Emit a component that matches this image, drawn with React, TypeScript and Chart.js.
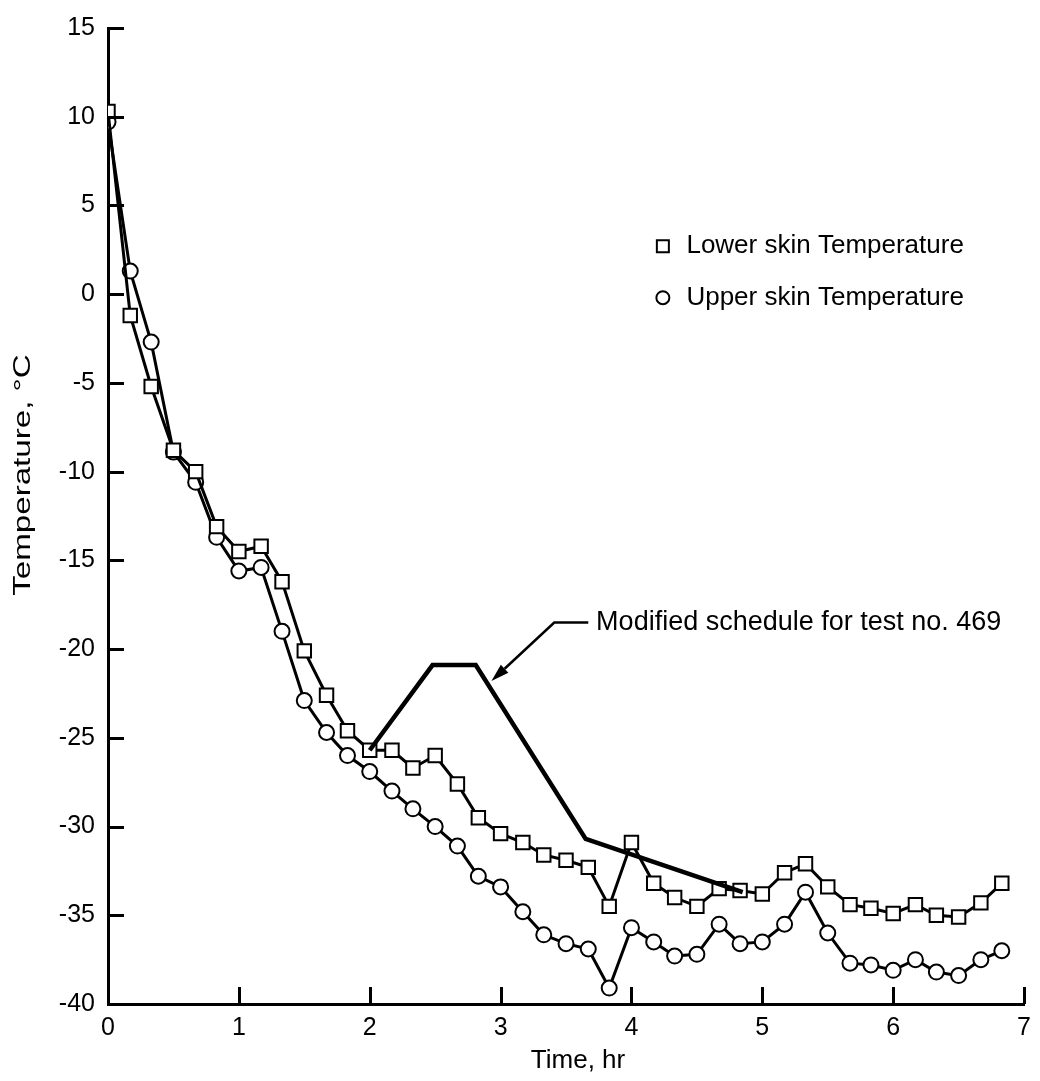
import React, { useEffect, useRef } from "react";
import { Chart, registerables } from "chart.js";

Chart.register(...registerables);

// ---- data ----
const times = [
  0, 0.17, 0.33, 0.5, 0.67, 0.83, 1, 1.17, 1.33, 1.5, 1.67, 1.83, 2, 2.17,
  2.33, 2.5, 2.67, 2.83, 3, 3.17, 3.33, 3.5, 3.67, 3.83, 4, 4.17, 4.33, 4.5,
  4.67, 4.83, 5, 5.17, 5.33, 5.5, 5.67, 5.83, 6, 6.17, 6.33, 6.5, 6.67, 6.83,
];
const lowerSkin = [
  10.3, -1.2, -5.2, -8.8, -10.0, -13.1, -14.5, -14.2, -16.2, -20.1, -22.6,
  -24.6, -25.7, -25.7, -26.7, -26.0, -27.6, -29.5, -30.4, -30.9, -31.6, -31.9,
  -32.3, -34.5, -30.9, -33.2, -34.0, -34.5, -33.5, -33.6, -33.8, -32.6, -32.1,
  -33.4, -34.4, -34.6, -34.9, -34.4, -35.0, -35.1, -34.3, -33.2,
];
const upperSkin = [
  9.7, 1.3, -2.7, -8.9, -10.6, -13.7, -15.6, -15.4, -19.0, -22.9, -24.7,
  -26.0, -26.9, -28.0, -29.0, -30.0, -31.1, -32.8, -33.4, -34.8, -36.1, -36.6,
  -36.9, -39.1, -35.7, -36.5, -37.3, -37.2, -35.5, -36.6, -36.5, -35.5, -33.7,
  -36.0, -37.7, -37.8, -38.1, -37.5, -38.2, -38.4, -37.5, -37.0,
];
const scheduleTimes = [2.0, 2.48, 2.81, 3.65, 4.85];
const scheduleTemps = [-25.7, -20.9, -20.9, -30.7, -33.7];

const xTickValues = [0, 1, 2, 3, 4, 5, 6, 7];
const yTickValues = [15, 10, 5, 0, -5, -10, -15, -20, -25, -30, -35, -40];

const xTitle = "Time, hr";
const yTitle = "Temperature, °C";
const legendLabels = ["Lower skin Temperature", "Upper skin Temperature"];
const legendMarkerTime = [4.24, 4.24];
const legendMarkerTemp = [2.7, -0.2];
const legendTextTime = 4.42;

const noteText = "Modified schedule for test no. 469";
const noteTime = 3.73;
const noteTemp = -18.5;
const arrowTimes = [3.67, 3.41, 2.93];
const arrowTemps = [-18.5, -18.5, -21.8];

const FONT = "'Liberation Sans', Arial, Helvetica, sans-serif";
const INK = "#000000";

const overlayPlugin = {
  id: "overlay",
  afterDraw(chart: any) {
    const { ctx, chartArea } = chart;
    const xs = chart.scales.x;
    const ys = chart.scales.y;
    ctx.save();
    ctx.strokeStyle = INK;
    ctx.fillStyle = INK;

    // inward tick marks
    ctx.lineWidth = 3;
    ctx.beginPath();
    yTickValues.forEach((v) => {
      const py = Math.round(ys.getPixelForValue(v)) + 0.5;
      ctx.moveTo(chartArea.left, py);
      ctx.lineTo(chartArea.left + 16, py);
    });
    xTickValues.forEach((v) => {
      if (v === 0) return;
      const px = Math.round(xs.getPixelForValue(v)) + 0.5;
      ctx.moveTo(px, chartArea.bottom);
      ctx.lineTo(px, chartArea.bottom - 17);
    });
    ctx.stroke();

    // axis titles
    ctx.font = `26px ${FONT}`;
    ctx.textAlign = "center";
    ctx.textBaseline = "middle";
    ctx.fillText(xTitle, (chartArea.left + chartArea.right) / 2 + 12, chartArea.bottom + 57);
    ctx.save();
    ctx.translate(23, chartArea.top + (chartArea.bottom - chartArea.top) * 0.458);
    ctx.rotate(-Math.PI / 2);
    ctx.scale(1.38, 1);
    ctx.font = `24px ${FONT}`;
    ctx.fillText(yTitle, 0, 0);
    ctx.restore();

    // legend
    ctx.lineWidth = 2;
    legendLabels.forEach((label, i) => {
      const mx = xs.getPixelForValue(legendMarkerTime[i]);
      const my = ys.getPixelForValue(legendMarkerTemp[i]);
      ctx.beginPath();
      if (i === 0) {
        ctx.rect(mx - 6, my - 6, 12, 12);
      } else {
        ctx.arc(mx, my, 6.5, 0, Math.PI * 2);
      }
      ctx.fillStyle = "#ffffff";
      ctx.fill();
      ctx.stroke();
      ctx.fillStyle = INK;
      ctx.font = `26px ${FONT}`;
      ctx.textAlign = "left";
      ctx.textBaseline = "middle";
      ctx.fillText(label, xs.getPixelForValue(legendTextTime), my);
    });

    // annotation text and arrow
    ctx.font = `27px ${FONT}`;
    ctx.textAlign = "left";
    ctx.textBaseline = "middle";
    ctx.fillText(noteText, xs.getPixelForValue(noteTime), ys.getPixelForValue(noteTemp));

    const pts = arrowTimes.map((t, i) => [xs.getPixelForValue(t), ys.getPixelForValue(arrowTemps[i])]);
    ctx.lineWidth = 2.5;
    ctx.beginPath();
    ctx.moveTo(pts[0][0], pts[0][1]);
    for (let i = 1; i < pts.length - 1; i++) ctx.lineTo(pts[i][0], pts[i][1]);
    const tip = pts[pts.length - 1];
    const prev = pts[pts.length - 2];
    const ang = Math.atan2(tip[1] - prev[1], tip[0] - prev[0]);
    const headLen = 18;
    const baseX = tip[0] - Math.cos(ang) * headLen;
    const baseY = tip[1] - Math.sin(ang) * headLen;
    ctx.lineTo(baseX, baseY);
    ctx.stroke();
    ctx.beginPath();
    ctx.moveTo(tip[0], tip[1]);
    ctx.lineTo(baseX + Math.sin(ang) * 5.5, baseY - Math.cos(ang) * 5.5);
    ctx.lineTo(baseX - Math.sin(ang) * 5.5, baseY + Math.cos(ang) * 5.5);
    ctx.closePath();
    ctx.fill();

    ctx.restore();
  },
};

export default function App() {
  const canvasRef = useRef<HTMLCanvasElement | null>(null);

  useEffect(() => {
    if (!canvasRef.current) return;
    const chart = new Chart(canvasRef.current, {
      type: "line",
      data: {
        datasets: [
          {
            label: "Modified schedule",
            data: scheduleTimes.map((t, i) => ({ x: t, y: scheduleTemps[i] })),
            borderColor: INK,
            borderWidth: 4.5,
            pointRadius: 0,
            tension: 0,
          },
          {
            label: legendLabels[0],
            data: times.map((t, i) => ({ x: t, y: lowerSkin[i] })),
            borderColor: INK,
            borderWidth: 3,
            pointStyle: "rect",
            pointRadius: 9.5,
            pointBorderWidth: 2,
            pointBackgroundColor: "#ffffff",
            pointBorderColor: INK,
            tension: 0,
          },
          {
            label: legendLabels[1],
            data: times.map((t, i) => ({ x: t, y: upperSkin[i] })),
            borderColor: INK,
            borderWidth: 3,
            pointStyle: "circle",
            pointRadius: 7.5,
            pointBorderWidth: 2,
            pointBackgroundColor: "#ffffff",
            pointBorderColor: INK,
            tension: 0,
          },
        ],
      },
      options: {
        animation: false,
        responsive: false,
        devicePixelRatio: 1,
        layout: { padding: { top: 23, right: 10, left: 0, bottom: 0 } },
        plugins: {
          legend: { display: false },
          tooltip: { enabled: false },
          title: { display: false },
        },
        scales: {
          x: {
            type: "linear",
            min: 0,
            max: 7,
            afterFit: (s: any) => {
              s.height = 77;
            },
            afterBuildTicks: (s: any) => {
              s.ticks = xTickValues.map((v) => ({ value: v }));
            },
            ticks: {
              color: INK,
              font: { family: FONT, size: 25 },
              padding: 9,
              maxRotation: 0,
              callback: (v: any) => String(v),
            },
            grid: { display: true, drawOnChartArea: false, drawTicks: false },
            border: { display: true, color: INK, width: 3 },
          },
          y: {
            type: "linear",
            min: -40,
            max: 15,
            afterFit: (s: any) => {
              s.width = 108;
            },
            afterBuildTicks: (s: any) => {
              s.ticks = yTickValues.map((v) => ({ value: v }));
            },
            ticks: {
              color: INK,
              font: { family: FONT, size: 25 },
              padding: 13,
              callback: (v: any) => String(v),
            },
            grid: { display: true, drawOnChartArea: false, drawTicks: false },
            border: { display: true, color: INK, width: 3 },
          },
        },
      },
      plugins: [overlayPlugin],
    });
    return () => chart.destroy();
  }, []);

  return (
    <div style={{ position: "absolute", left: 0, top: 0, width: 1040, height: 1081, background: "#ffffff" }}>
      <canvas ref={canvasRef} width={1040} height={1081} style={{ width: 1040, height: 1081, display: "block" }} />
    </div>
  );
}
